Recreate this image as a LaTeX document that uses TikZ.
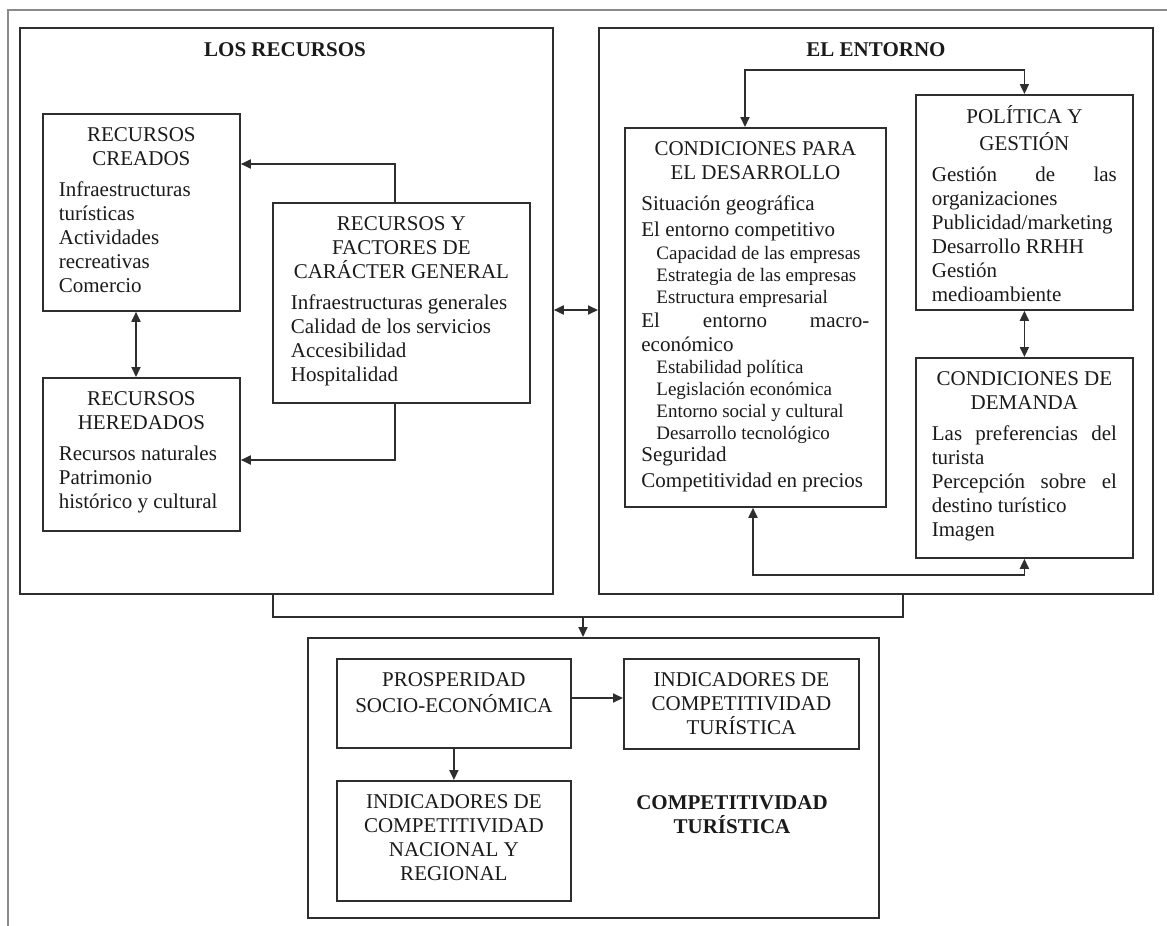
\documentclass[tikz,border=0pt]{standalone}
\usepackage{fontspec}
\setmainfont{Liberation Serif}
\usetikzlibrary{arrows.meta}
\setlength{\parindent}{0pt}
\hyphenpenalty=10000
\definecolor{linec}{HTML}{2E2E2E}
\definecolor{textc}{HTML}{1A1A1A}
\definecolor{framec}{HTML}{8A8A8A}
% box text: height, width, centred title, body
\newcommand{\panel}[4]{\parbox[c][#1][t]{#2}{\vspace*{11pt}{\centering\strut#3\par}\vspace{7pt}\raggedright#4}}
\newcommand{\spread}[1]{\makebox[\linewidth][s]{#1}}
\newcommand{\sub}[1]{\hspace*{15pt}{\fontsize{19}{22}\selectfont#1}}
\begin{document}
\begin{tikzpicture}[x=1pt, y=-1pt,
    box/.style={draw=linec, line width=1.8pt, inner sep=0pt, anchor=north west, text=textc, font=\fontsize{21}{24}\selectfont},
    head/.style={inner sep=0pt, text=textc, font=\fontsize{21}{24}\selectfont\bfseries},
    arr/.style={draw=linec, line width=1.8pt, -{Triangle[length=10pt,width=9pt]}},
    dbl/.style={draw=linec, line width=1.8pt, {Triangle[length=10pt,width=9pt]}-{Triangle[length=10pt,width=9pt]}}]
\useasboundingbox (0,0) rectangle (1167,926);
\draw[framec, line width=2.5pt] (8,926) -- (8,10) -- (1167,10);

% the three blocks
\node[box, minimum width=533pt, minimum height=566pt] (recursos) at (19,27) {};
\node[box, minimum width=554pt, minimum height=566pt] (entorno) at (598,27) {};
\node[box, minimum width=571pt, minimum height=280pt] (competitividad) at (307,637) {};
\node[head] (recursosT) at (285,50) {LOS RECURSOS};
\node[head] (entornoT) at (876,50) {EL ENTORNO};
\node[head, align=center] (competitividadT) at (732,815) {COMPETITIVIDAD\\TURÍSTICA};

% los recursos
\node[box, minimum width=197pt] (creados) at (42,113) {\panel{197pt}{165pt}{RECURSOS\\CREADOS}{Infraestructuras\\turísticas\\Actividades\\recreativas\\Comercio}};
\node[box, minimum width=197pt] (heredados) at (42,377) {\panel{153pt}{165pt}{RECURSOS\\HEREDADOS}{Recursos naturales\\Patrimonio\\histórico y cultural}};
\node[box, minimum width=257pt] (factores) at (272,202) {\panel{200pt}{221pt}{RECURSOS Y\\FACTORES DE\\CARÁCTER GENERAL}{Infraestructuras generales\\Calidad de los servicios\\Accesibilidad\\Hospitalidad}};

% el entorno
\node[box, minimum width=261pt] (cpdes) at (624,127) {\panel{379pt}{228pt}{CONDICIONES PARA\\EL DESARROLLO}{Situación geográfica\\[2pt]
  El entorno competitivo\\[-1pt]
  \sub{Capacidad de las empresas}\\[-2pt]
  \sub{Estrategia de las empresas}\\[-2pt]
  \sub{Estructura empresarial}\\
  \spread{El entorno macro-}\\
  económico\\[-2pt]
  \sub{Estabilidad política}\\[-2pt]
  \sub{Legislación económica}\\[-2pt]
  \sub{Entorno social y cultural}\\[-2pt]
  \sub{Desarrollo tecnológico}\\[-2pt]
  Seguridad\\[2pt]
  Competitividad en precios}};
\node[box, minimum width=217pt] (politica) at (915,94) {\panel{215pt}{185pt}{POLÍTICA Y\\GESTIÓN}{\spread{Gestión de las}\\organizaciones\\Publicidad/marketing\\Desarrollo RRHH\\Gestión\\medioambiente}};
\node[box, minimum width=217pt] (demanda) at (915,357) {\panel{200pt}{185pt}{CONDICIONES DE\\DEMANDA}{\spread{Las preferencias del}\\turista\\\spread{Percepción sobre el}\\destino turístico\\Imagen}};

% competitividad turistica
\node[box, minimum width=234pt] (prosp) at (336,658) {\panel{89pt}{220pt}{PROSPERIDAD\\SOCIO-ECONÓMICA}{}};
\node[box, minimum width=235pt] (indtur) at (623,658) {\panel{90pt}{220pt}{INDICADORES DE\\COMPETITIVIDAD\\TURÍSTICA}{}};
\node[box, minimum width=234pt] (indnac) at (336,780) {\panel{120pt}{220pt}{INDICADORES DE\\COMPETITIVIDAD\\NACIONAL Y\\REGIONAL}{}};

% connectors
\draw[arr] (factores.north -| 395,0) |- (creados.east |- 0,164);
\draw[arr] (factores.south -| 395,0) |- (heredados.east |- 0,460);
\draw[dbl] (creados.south -| 136,0) -- (heredados.north -| 136,0);
\draw[dbl] (recursos.east |- 0,310) -- (entorno.west |- 0,310);
\draw[dbl] (cpdes.north -| 745,0) |- (politica.north |- 0,70) -- (politica.north);
\draw[dbl] (politica.south) -- (demanda.north);
\draw[dbl] (cpdes.south -| 753,0) |- (demanda.south |- 0,575) -- (demanda.south);
\coordinate (mergeL) at (273,617);
\coordinate (mergeR) at (903,617);
\draw[linec, line width=1.8pt] (recursos.south -| mergeL) -- (mergeL) -- (mergeR) -- (entorno.south -| mergeR);
\draw[arr] (mergeL -| 583,0) -- (competitividad.north -| 583,0);
\draw[arr] (prosp.east |- 0,698) -- (indtur.west |- 0,698);
\draw[arr] (prosp.south) -- (indnac.north);
\end{tikzpicture}
\end{document}
